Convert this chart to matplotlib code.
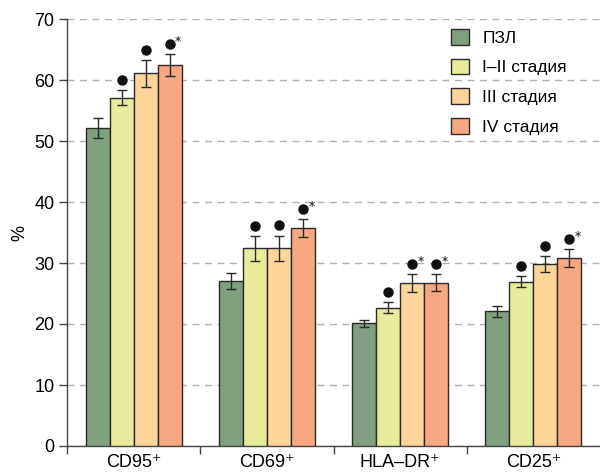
import matplotlib
matplotlib.use("Agg")
import matplotlib.pyplot as plt
from matplotlib.patches import Patch
import numpy as np

plt.rcParams['font.family'] = ['Liberation Sans Narrow', 'Liberation Sans', 'DejaVu Sans']

categories = ["CD95⁺", "CD69⁺", "HLA–DR⁺", "CD25⁺"]
series = ["ПЗЛ", "I–II стадия", "III стадия", "IV стадия"]
colors = ["#7f9f7f", "#e8eb9b", "#fdd49a", "#f7a882"]

values = {
    "ПЗЛ":         [52.1, 27.0, 20.1, 22.1],
    "I–II стадия": [57.1, 32.4, 22.7, 26.9],
    "III стадия":  [61.1, 32.4, 26.7, 29.8],
    "IV стадия":   [62.4, 35.7, 26.8, 30.8],
}
errors = {
    "ПЗЛ":         [1.6, 1.3, 0.6, 0.9],
    "I–II стадия": [1.2, 2.0, 0.9, 0.9],
    "III стадия":  [2.2, 2.1, 1.5, 1.3],
    "IV стадия":   [1.8, 1.5, 1.4, 1.5],
}
# significance: dot (vs ПЗЛ), star (vs I–II)
dots = {
    "ПЗЛ":         [0, 0, 0, 0],
    "I–II стадия": [1, 1, 1, 1],
    "III стадия":  [1, 1, 1, 1],
    "IV стадия":   [1, 1, 1, 1],
}
stars = {
    "ПЗЛ":         [0, 0, 0, 0],
    "I–II стадия": [0, 0, 0, 0],
    "III стадия":  [0, 0, 1, 0],
    "IV стадия":   [1, 1, 1, 1],
}

fig = plt.figure(figsize=(6.0, 4.74), dpi=100)
ax = fig.add_axes([67/600, 28/474, 533/600, 427/474])

x = np.arange(len(categories))
w = 0.18
for i, s in enumerate(series):
    xs = x + (i - 1.5) * w
    ax.bar(xs, values[s], width=w, color=colors[i], edgecolor="#2a2a2a",
           linewidth=1.0, zorder=3, label=s)
    ax.errorbar(xs, values[s], yerr=errors[s], fmt="none", ecolor="#2a2a2a",
                elinewidth=1.0, capsize=3.5, capthick=1.0, zorder=4)
    for j in range(len(categories)):
        top = values[s][j] + errors[s][j]
        if dots[s][j]:
            ax.plot(xs[j], top + 1.7, "o", color="#111111", markersize=6.5, zorder=5)
        if stars[s][j]:
            ax.text(xs[j] + 0.065, top + 2.1, "*", fontsize=9, ha="center",
                    va="center", color="#111111", family="DejaVu Sans", zorder=5)

ax.set_xlim(-0.5, 3.5)
ax.set_ylim(0, 70)
ax.set_yticks(range(0, 71, 10))
ax.tick_params(axis="y", labelsize=13, length=6, width=1.0, color="#444444", pad=3)
ax.yaxis.grid(True, linestyle=(0, (5, 4)), color="#b0b0b0", linewidth=1.0, zorder=0)
ax.set_axisbelow(True)

ax.set_xticks([-0.5, 0.5, 1.5, 2.5])
ax.set_xticklabels([])
ax.set_xticks(x, minor=True)
ax.set_xticklabels(categories, minor=True, fontsize=13)
ax.tick_params(axis="x", which="major", length=6, width=1.0, color="#444444")
ax.tick_params(axis="x", which="minor", length=0, pad=6)

for sp in ["top", "right"]:
    ax.spines[sp].set_visible(False)
for sp in ["left", "bottom"]:
    ax.spines[sp].set_color("#444444")
    ax.spines[sp].set_linewidth(1.0)

ax.set_ylabel("%", fontsize=13, labelpad=4)

handles = [Patch(facecolor=colors[i], edgecolor="#2a2a2a", label=s) for i, s in enumerate(series)]
ax.legend(handles=handles, loc="upper left", bbox_to_anchor=(372/533, 1.005),
          frameon=False, fontsize=12.5, handlelength=1.0, handleheight=1.0,
          handletextpad=0.8, labelspacing=0.75, borderaxespad=0.3)

fig.savefig("out.png", dpi=100)
